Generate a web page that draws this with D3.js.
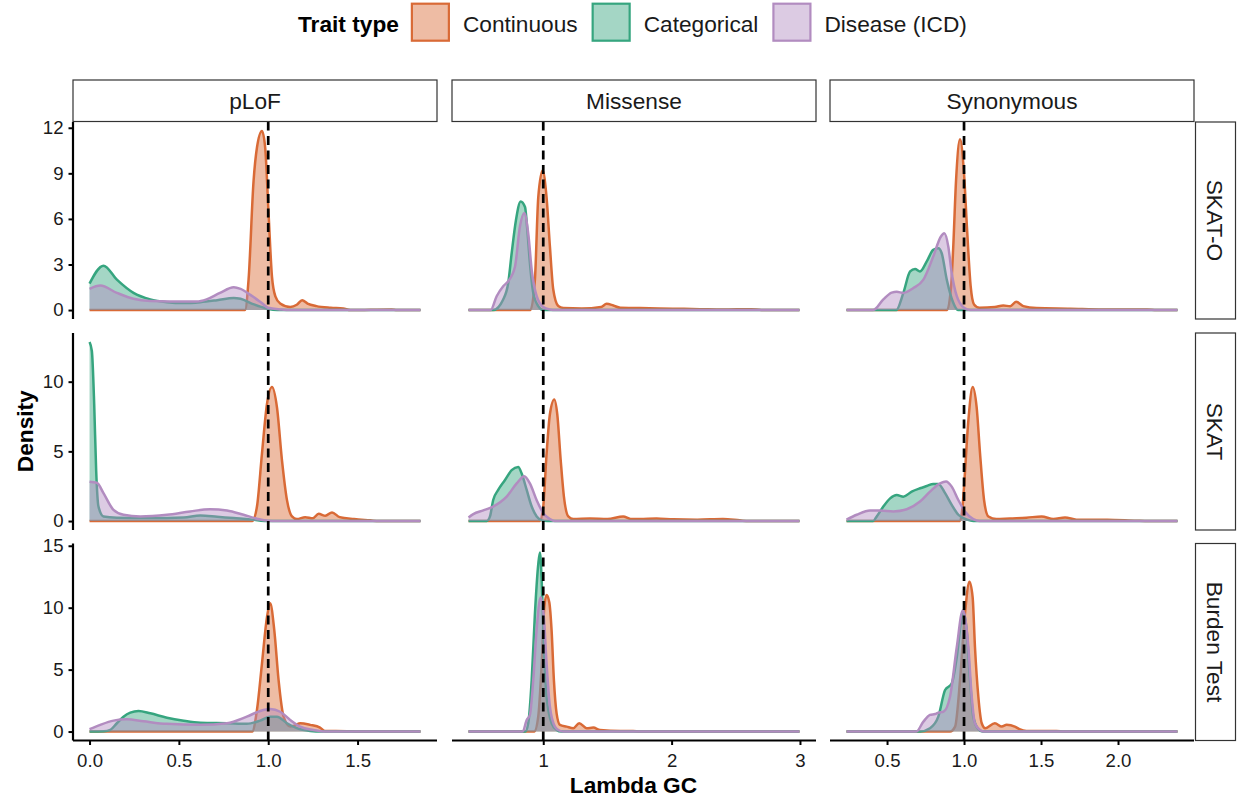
<!DOCTYPE html>
<html><head><meta charset="utf-8">
<script src="https://cdn.jsdelivr.net/npm/d3@7"></script>
<style>
html,body{margin:0;padding:0;background:#fff;}
svg{display:block;}
</style>
</head><body>
<svg id="chart" width="1238" height="799"></svg>
<script>
// ---------- categories / labels ----------
const testTypes = ["SKAT-O", "SKAT", "Burden Test"];          // facet rows
const variantTypes = ["pLoF", "Missense", "Synonymous"];      // facet columns
const traitTypes = ["Continuous", "Categorical", "Disease (ICD)"];
const traitColors = ["#D96A36", "#36A57F", "#B28CC0"];
const xDataRanges = [[0, 1.852], [0.418, 2.996], [0.237, 2.386]];
const xTickValues = [[0, 0.5, 1.0, 1.5], [1, 2, 3], [0.5, 1.0, 1.5, 2.0]];
const xTickFormats = [".1f", "d", ".1f"];
const yTickValues = [[0, 3, 6, 9, 12], [0, 5, 10], [0, 5, 10, 15]];
const refLambda = 1;

// ---------- density curves [lambda, density] ----------
// SKAT-O
const skatO_pLoF_cont = [[0,0],[0.87,0],[0.89,2.0],[0.918,8.5],[0.937,10.7],[0.965,11.79],[0.983,10.7],[1.002,6.35],[1.021,2.2],[1.04,0.9],[1.067,0.43],[1.123,0.2],[1.16,0.35],[1.19,0.65],[1.22,0.43],[1.27,0.26],[1.35,0.15],[1.42,0.1],[1.46,0],[1.69,0.04],[1.72,0],[1.852,0]];
const skatO_pLoF_cat = [[0,1.74],[0.078,2.92],[0.153,2.0],[0.246,1.13],[0.34,0.7],[0.433,0.52],[0.527,0.46],[0.62,0.52],[0.714,0.65],[0.807,0.8],[0.845,0.74],[0.92,0.37],[0.995,0.09],[1.05,0],[1.852,0]];
const skatO_pLoF_dis = [[0,1.39],[0.06,1.61],[0.153,1.13],[0.246,0.74],[0.34,0.59],[0.45,0.56],[0.6,0.56],[0.655,0.7],[0.73,1.13],[0.807,1.5],[0.845,1.39],[0.9,1.0],[0.96,0.5],[1.0,0.15],[1.07,0.04],[1.12,0],[1.852,0]];
const skatO_mis_cont = [[0.418,0],[0.9,0],[0.935,2.0],[0.961,7.4],[0.995,9.18],[1.026,7.4],[1.052,4.17],[1.078,1.35],[1.117,0.26],[1.156,0.13],[1.3,0.1],[1.45,0.2],[1.494,0.41],[1.546,0.3],[1.6,0.15],[1.753,0.13],[2.01,0.09],[2.22,0.06],[2.4,0.03],[2.62,0.06],[2.7,0],[2.996,0]];
const skatO_mis_cat = [[0.418,0],[0.61,0],[0.688,0.7],[0.727,1.78],[0.754,3.74],[0.787,5.9],[0.824,7.15],[0.858,6.78],[0.876,5.26],[0.896,3.1],[0.922,1.13],[0.961,0.26],[1.0,0],[2.996,0]];
const skatO_mis_dis = [[0.418,0],[0.59,0],[0.637,0.91],[0.688,1.57],[0.727,1.9],[0.78,2.87],[0.818,5.48],[0.852,6.39],[0.883,5.05],[0.91,2.65],[0.949,0.91],[1.0,0.2],[1.05,0.04],[1.1,0],[2.996,0]];
const skatO_syn_cont = [[0.237,0],[0.89,0],[0.916,1.57],[0.93,4.17],[0.948,8.5],[0.974,11.24],[1.0,8.96],[1.02,5.26],[1.043,1.57],[1.065,0.37],[1.1,0.15],[1.2,0.2],[1.255,0.3],[1.3,0.25],[1.338,0.54],[1.385,0.26],[1.47,0.13],[1.69,0.09],[1.9,0.04],[2.19,0.04],[2.25,0],[2.386,0]];
const skatO_syn_cat = [[0.237,0],[0.56,0],[0.606,1.13],[0.65,2.54],[0.682,2.7],[0.714,2.54],[0.758,3.2],[0.80,3.96],[0.833,4.07],[0.855,3.74],[0.888,2.0],[0.93,0.48],[0.96,0],[2.386,0]];
const skatO_syn_dis = [[0.237,0],[0.41,0],[0.476,0.7],[0.53,1.15],[0.563,1.2],[0.606,1.13],[0.671,1.45],[0.736,2.0],[0.80,3.52],[0.849,4.83],[0.872,5.05],[0.898,4.17],[0.92,2.44],[0.953,0.91],[1.0,0.15],[1.04,0],[2.386,0]];
// SKAT
const skat_pLoF_cont = [[0,0],[0.91,0],[0.937,1.04],[0.965,4.84],[0.993,8.4],[1.021,9.62],[1.049,8.15],[1.077,4.36],[1.105,1.5],[1.133,0.33],[1.16,0.14],[1.207,0.28],[1.25,0.2],[1.282,0.52],[1.32,0.38],[1.357,0.62],[1.40,0.28],[1.48,0.14],[1.57,0.05],[1.62,0],[1.852,0]];
const skat_pLoF_cat = [[0,12.85],[0.013,12.2],[0.026,8.4],[0.037,3.65],[0.05,1.04],[0.078,0.33],[0.153,0.24],[0.34,0.21],[0.527,0.26],[0.62,0.4],[0.714,0.31],[0.807,0.21],[0.9,0.12],[0.98,0],[1.852,0]];
const skat_pLoF_dis = [[0,2.82],[0.041,2.75],[0.078,2.0],[0.134,0.8],[0.19,0.45],[0.284,0.33],[0.433,0.45],[0.563,0.69],[0.675,0.85],[0.769,0.76],[0.862,0.45],[0.937,0.17],[1.0,0.02],[1.05,0],[1.852,0]];
const skat_mis_cont = [[0.418,0],[0.975,0],[1.0,1.04],[1.026,4.84],[1.052,7.68],[1.086,8.72],[1.109,7.68],[1.136,4.36],[1.161,1.75],[1.195,0.33],[1.234,0.14],[1.364,0.19],[1.5,0.15],[1.623,0.33],[1.68,0.15],[1.753,0.14],[1.883,0.19],[2.013,0.12],[2.2,0.1],[2.40,0.14],[2.53,0.05],[2.6,0],[2.996,0]];
const skat_mis_cat = [[0.418,0],[0.56,0],[0.585,0.33],[0.61,1.51],[0.649,2.23],[0.702,2.94],[0.754,3.65],[0.805,3.88],[0.832,3.41],[0.871,2.23],[0.91,1.04],[0.949,0.33],[0.99,0.05],[1.03,0],[2.996,0]];
const skat_mis_dis = [[0.418,0.26],[0.455,0.5],[0.533,0.76],[0.61,1.04],[0.715,1.75],[0.793,2.7],[0.852,3.22],[0.896,2.7],[0.948,1.51],[1.0,0.57],[1.052,0.14],[1.09,0],[2.996,0]];
const skat_syn_cont = [[0.237,0],[0.974,0],[0.99,1.0],[1.0,2.47],[1.028,7.2],[1.056,9.62],[1.082,8.15],[1.104,4.84],[1.13,1.51],[1.158,0.33],[1.21,0.14],[1.297,0.19],[1.405,0.24],[1.504,0.33],[1.58,0.14],[1.656,0.26],[1.73,0.1],[1.93,0.1],[2.12,0.02],[2.2,0],[2.386,0]];
const skat_syn_cat = [[0.237,0],[0.41,0],[0.433,0.33],[0.476,1.04],[0.52,1.63],[0.563,1.87],[0.606,1.75],[0.66,2.11],[0.714,2.35],[0.758,2.51],[0.80,2.66],[0.833,2.66],[0.877,2.0],[0.92,1.16],[0.963,0.45],[1.02,0.1],[1.06,0],[2.386,0]];
const skat_syn_dis = [[0.237,0.1],[0.303,0.45],[0.39,0.76],[0.455,0.76],[0.541,0.69],[0.628,0.85],[0.714,1.4],[0.779,2.11],[0.844,2.7],[0.883,2.84],[0.92,2.47],[0.963,1.51],[1.006,0.69],[1.06,0.14],[1.1,0],[2.386,0]];
// Burden Test
const burden_pLoF_cont = [[0,0],[0.91,0],[0.937,1.74],[0.965,5.49],[0.993,9.24],[1.011,10.36],[1.034,8.17],[1.058,4.15],[1.086,1.2],[1.123,0.4],[1.15,0.5],[1.179,0.67],[1.235,0.54],[1.29,0.32],[1.318,0.05],[1.44,0.03],[1.5,0],[1.852,0]];
const burden_pLoF_cat = [[0,0],[0.08,0.02],[0.116,0.13],[0.153,0.67],[0.19,1.2],[0.228,1.53],[0.274,1.66],[0.34,1.47],[0.433,1.12],[0.527,0.88],[0.62,0.72],[0.769,0.67],[0.88,0.62],[0.955,0.88],[1.011,1.2],[1.049,1.2],[1.105,0.67],[1.16,0.27],[1.235,0.05],[1.3,0],[1.852,0]];
const burden_pLoF_dis = [[0,0.19],[0.06,0.54],[0.134,0.88],[0.209,0.99],[0.302,0.83],[0.433,0.62],[0.62,0.54],[0.769,0.67],[0.88,1.2],[0.955,1.66],[1.011,1.82],[1.067,1.6],[1.123,0.94],[1.179,0.4],[1.254,0.13],[1.32,0],[1.852,0]];
const burden_mis_cont = [[0.418,0],[0.93,0],[0.961,1.2],[0.988,5.49],[1.008,10.04],[1.026,11.03],[1.047,10.44],[1.065,8.17],[1.083,4.15],[1.104,1.47],[1.13,0.54],[1.182,0.4],[1.234,0.27],[1.28,0.67],[1.338,0.27],[1.39,0.32],[1.442,0.13],[1.6,0.05],[1.70,0.05],[1.75,0],[2.996,0]];
const burden_mis_cat = [[0.418,0],[0.86,0],[0.883,0.67],[0.91,4.15],[0.935,9.5],[0.961,13.5],[0.974,14.46],[0.988,12.18],[1.005,6.83],[1.026,2.81],[1.065,0.67],[1.104,0.13],[1.14,0],[2.996,0]];
const burden_mis_dis = [[0.418,0],[0.84,0],[0.871,0.94],[0.896,1.34],[0.922,4.15],[0.948,8.17],[0.98,10.84],[1.005,9.24],[1.026,5.49],[1.052,2.0],[1.091,0.4],[1.13,0.05],[1.16,0],[2.996,0]];
const burden_syn_cont = [[0.237,0],[0.909,0],[0.942,0.4],[0.974,4.15],[1.006,9.5],[1.035,12.1],[1.056,10.84],[1.071,6.83],[1.093,2.81],[1.115,0.67],[1.137,0.27],[1.2,0.67],[1.245,0.4],[1.277,0.54],[1.33,0.4],[1.36,0.19],[1.405,0.05],[1.6,0.05],[1.65,0],[2.386,0]];
const burden_syn_cat = [[0.237,0],[0.714,0],[0.779,0.27],[0.833,1.2],[0.877,3.35],[0.92,3.88],[0.953,6.02],[0.985,9.24],[0.996,9.64],[1.017,8.17],[1.039,4.15],[1.06,1.2],[1.093,0.19],[1.12,0],[2.386,0]];
const burden_syn_dis = [[0.237,0],[0.69,0],[0.736,0.8],[0.779,1.34],[0.812,1.42],[0.833,1.53],[0.866,1.6],[0.909,2.81],[0.953,6.83],[0.992,9.78],[1.002,9.5],[1.028,6.83],[1.05,2.81],[1.071,0.67],[1.104,0.13],[1.13,0],[2.386,0]];

// table [row][col][trait] built from the named arrays
const curves = [
  [[skatO_pLoF_cont, skatO_pLoF_cat, skatO_pLoF_dis],
   [skatO_mis_cont, skatO_mis_cat, skatO_mis_dis],
   [skatO_syn_cont, skatO_syn_cat, skatO_syn_dis]],
  [[skat_pLoF_cont, skat_pLoF_cat, skat_pLoF_dis],
   [skat_mis_cont, skat_mis_cat, skat_mis_dis],
   [skat_syn_cont, skat_syn_cat, skat_syn_dis]],
  [[burden_pLoF_cont, burden_pLoF_cat, burden_pLoF_dis],
   [burden_mis_cont, burden_mis_cat, burden_mis_dis],
   [burden_syn_cont, burden_syn_cat, burden_syn_dis]]
];

// ---------- layout ----------
const FONT = "'Liberation Sans', Arimo, Arial, Helvetica, sans-serif";
const colLeft = [73, 452, 830];
const panelW = 364;
const rowTop = [122, 333, 543.5];
const panelH = 197;
const svg = d3.select("#chart");
svg.append("rect").attr("width", 1238).attr("height", 799).attr("fill", "#fff");

const xScales = xDataRanges.map((r, c) => {
  const pad = (r[1] - r[0]) * 0.05;
  return d3.scaleLinear().domain([r[0] - pad, r[1] + pad]).range([colLeft[c], colLeft[c] + panelW]);
});
const yScales = curves.map((row, r) => {
  const m = d3.max(row.flat(), s => d3.max(s, d => d[1]));
  return d3.scaleLinear().domain([-0.05 * m, 1.05 * m]).range([rowTop[r] + panelH, rowTop[r]]);
});

// ---------- panels ----------
for (let r = 0; r < 3; r++) {
  for (let c = 0; c < 3; c++) {
    const xs = xScales[c], ys = yScales[r];
    const g = svg.append("g");
    const area = d3.area().x(d => xs(d[0])).y0(ys(0)).y1(d => ys(d[1])).curve(d3.curveMonotoneX);
    const line = d3.line().x(d => xs(d[0])).y(d => ys(d[1])).curve(d3.curveMonotoneX);
    curves[r][c].forEach((s, k) => {
      g.append("path").attr("d", area(s)).attr("fill", traitColors[k]).attr("fill-opacity", 0.45);
      g.append("path").attr("d", line(s)).attr("fill", "none").attr("stroke", traitColors[k])
        .attr("stroke-width", 2.5).attr("stroke-linejoin", "round");
    });
    // reference line at lambda = 1
    g.append("path")
      .attr("d", `M${xs(refLambda)},${rowTop[r] + panelH}V${rowTop[r]}`)
      .attr("stroke", "#000").attr("stroke-width", 2.7).attr("stroke-dasharray", "9,5.5").attr("fill", "none");
  }
}

// ---------- y axes (first column) ----------
for (let r = 0; r < 3; r++) {
  const ax = svg.append("g").attr("transform", `translate(${colLeft[0]},0)`)
    .call(d3.axisLeft(yScales[r]).tickValues(yTickValues[r]).tickFormat(d3.format("d")).tickSize(4.5).tickPadding(5));
  ax.select(".domain").remove();
  ax.selectAll(".tick line").attr("stroke", "#000").attr("stroke-width", 2);
  ax.selectAll(".tick text").attr("font-family", FONT).attr("font-size", 18.6).attr("fill", "#1a1a1a");
  svg.append("line").attr("x1", colLeft[0]).attr("x2", colLeft[0])
    .attr("y1", rowTop[r]).attr("y2", rowTop[r] + panelH).attr("stroke", "#000").attr("stroke-width", 2.2);
}

// ---------- x axes (bottom row) ----------
const yBottom = rowTop[2] + panelH;
for (let c = 0; c < 3; c++) {
  const ax = svg.append("g").attr("transform", `translate(0,${yBottom})`)
    .call(d3.axisBottom(xScales[c]).tickValues(xTickValues[c]).tickFormat(d3.format(xTickFormats[c])).tickSize(4.5).tickPadding(8.5));
  ax.select(".domain").remove();
  ax.selectAll(".tick line").attr("stroke", "#000").attr("stroke-width", 2);
  ax.selectAll(".tick text").attr("font-family", FONT).attr("font-size", 18.6).attr("fill", "#1a1a1a");
  svg.append("line").attr("x1", colLeft[c]).attr("x2", colLeft[c] + panelW)
    .attr("y1", yBottom).attr("y2", yBottom).attr("stroke", "#000").attr("stroke-width", 2.2);
}

// ---------- strips ----------
const stripTop = 80;
variantTypes.forEach((v, c) => {
  svg.append("rect").attr("x", colLeft[c]).attr("y", stripTop).attr("width", panelW).attr("height", rowTop[0] - stripTop - 0.5)
    .attr("fill", "#fff").attr("stroke", "#333").attr("stroke-width", 1.2);
  svg.append("text").attr("x", colLeft[c] + panelW / 2).attr("y", 109.2).attr("text-anchor", "middle")
    .attr("font-family", FONT).attr("font-size", 22.7).attr("fill", "#1a1a1a").text(v);
});
const stripLeft = colLeft[2] + panelW + 1.5;
const stripW = 40;
testTypes.forEach((t, r) => {
  svg.append("rect").attr("x", stripLeft).attr("y", rowTop[r]).attr("width", stripW).attr("height", panelH)
    .attr("fill", "#fff").attr("stroke", "#333").attr("stroke-width", 1.2);
  svg.append("text").attr("transform", `translate(${stripLeft + stripW / 2 - 8.2},${rowTop[r] + panelH / 2}) rotate(90)`)
    .attr("text-anchor", "middle").attr("font-family", FONT).attr("font-size", 22.7).attr("fill", "#1a1a1a").text(t);
});

// ---------- axis titles ----------
svg.append("text").attr("transform", `translate(32.5,${(rowTop[0] + yBottom) / 2}) rotate(-90)`)
  .attr("text-anchor", "middle").attr("font-family", FONT).attr("font-size", 22.7).attr("font-weight", "bold")
  .attr("fill", "#000").text("Density");
svg.append("text").attr("x", (colLeft[0] + colLeft[2] + panelW) / 2).attr("y", 792.5)
  .attr("text-anchor", "middle").attr("font-family", FONT).attr("font-size", 22.7).attr("font-weight", "bold")
  .attr("fill", "#000").text("Lambda GC");

// ---------- legend ----------
const leg = svg.append("g");
const legBase = 31.7, keyTop = 2.7, keySize = 39;
const title = leg.append("text").attr("x", 298).attr("y", legBase).attr("font-family", FONT)
  .attr("font-size", 22.7).attr("font-weight", "bold").attr("fill", "#000").text("Trait type");
let cx = 298 + title.node().getComputedTextLength() + 12;
traitTypes.forEach((t, k) => {
  leg.append("rect").attr("x", cx + 1).attr("y", keyTop + 1).attr("width", keySize - 2).attr("height", keySize - 2)
    .attr("fill", traitColors[k]).attr("fill-opacity", 0.45).attr("stroke", traitColors[k]).attr("stroke-width", 2.2);
  const lbl = leg.append("text").attr("x", cx + keySize + 13).attr("y", legBase).attr("font-family", FONT)
    .attr("font-size", 22.7).attr("fill", "#1a1a1a").text(t);
  cx = cx + keySize + 13 + lbl.node().getComputedTextLength() + 14;
});
</script>
</body></html>
